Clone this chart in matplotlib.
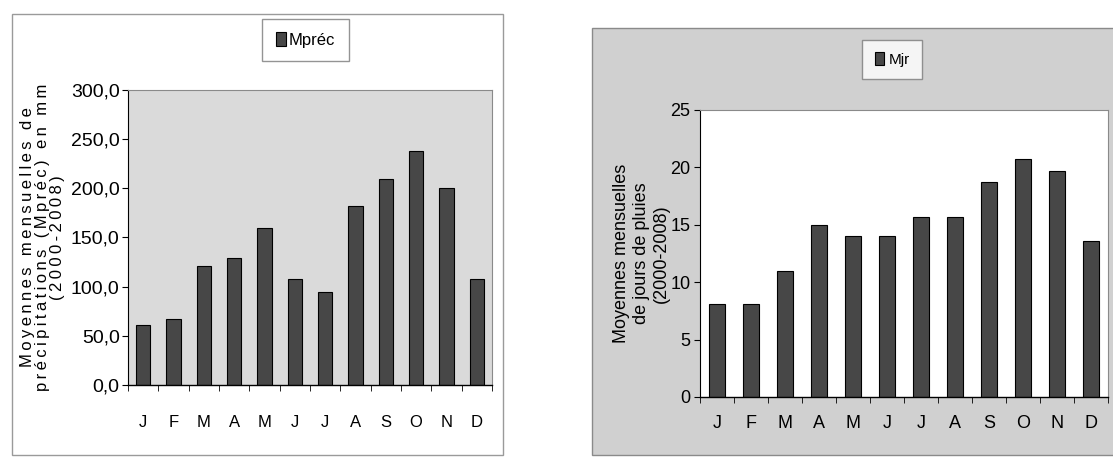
import numpy as np
import matplotlib.pyplot as plt
from matplotlib.patches import Rectangle
from matplotlib import font_manager

# Mois (initiales)
mois = ['J', 'F', 'M', 'A', 'M', 'J', 'J', 'A', 'S', 'O', 'N', 'D']

# Moyennes mensuelles de précipitations (mm), 2000-2008
mprec = [61, 67, 121, 129, 160, 108, 94, 182, 209, 238, 200, 108]

# Moyennes mensuelles de jours de pluie, 2000-2008
mjr = [8.1, 8.1, 11.0, 15.0, 14.0, 14.0, 15.7, 15.7, 18.7, 20.7, 19.7, 13.6]

prec_ticks = [0, 50, 100, 150, 200, 250, 300]
jr_ticks = [0, 5, 10, 15, 20, 25]

# police étroite si disponible
noms = {f.name for f in font_manager.fontManager.ttflist}
narrow = 'Liberation Sans Narrow' if 'Liberation Sans Narrow' in noms else 'Liberation Sans'
plt.rcParams['font.family'] = ['Liberation Sans', 'DejaVu Sans']

BAR = '#474747'
THIN = '\u2009'


def espacer(texte):
    """Texte avec un espacement entre les lettres."""
    return THIN.join(texte)


fig = plt.figure(figsize=(11.13, 4.61), dpi=100)
fig.patch.set_facecolor('white')

# cadres des deux graphiques (derrière les axes)
fig.add_artist(Rectangle((0.0108, 0.013), 0.441, 0.957, transform=fig.transFigure,
                         facecolor='white', edgecolor='#9a9a9a', linewidth=1.0,
                         zorder=-10))
fig.add_artist(Rectangle((0.532, 0.013), 0.48, 0.926, transform=fig.transFigure,
                         facecolor='#d0d0d0', edgecolor='#8a8a8a', linewidth=1.0,
                         zorder=-10))

x = np.arange(len(mois))

# ----- graphique 1 : précipitations -----
ax1 = fig.add_axes([0.115, 0.165, 0.327, 0.640])
ax1.set_facecolor('#dadada')
b1 = ax1.bar(x, mprec, width=0.48, color=BAR, edgecolor='black', linewidth=0.8,
             label='Mpréc')
ax1.set_xlim(-0.5, len(mois) - 0.5)
ax1.set_ylim(0, 300)
ax1.set_yticks(prec_ticks)
ax1.set_yticklabels([f'{v:.1f}'.replace('.', ',') for v in prec_ticks],
                    fontsize=14, family=narrow)
ax1.set_xticks(x)
ax1.set_xticklabels(mois, fontsize=12, family=narrow)
ax1.set_xticks(np.arange(-0.5, len(mois)), minor=True)
ax1.tick_params(axis='x', which='major', length=0, pad=22)
ax1.tick_params(axis='x', which='minor', length=4, direction='out')
ax1.tick_params(axis='y', length=4, direction='out', pad=2)
for s in ['top', 'right']:
    ax1.spines[s].set_color('#8a8a8a')
    ax1.spines[s].set_linewidth(0.8)
ax1.spines['left'].set_linewidth(0.8)
ax1.spines['bottom'].set_linewidth(1.0)
ax1.set_ylabel(espacer('Moyennes mensuelles de') + '\n'
               + espacer('précipitations (Mpréc) en mm') + '\n'
               + espacer('(2000-2008)'),
               fontsize=12, linespacing=1.0, labelpad=4)
ax1.legend(handles=[b1], loc='center', bbox_to_anchor=(0.2745, 0.913),
           bbox_transform=fig.transFigure, frameon=True,
           fancybox=False, edgecolor='#7a7a7a', handlelength=0.6,
           handleheight=0.9, handletextpad=0.2, borderpad=0.8,
           prop={'family': narrow, 'size': 12})

# ----- graphique 2 : jours de pluie -----
ax2 = fig.add_axes([0.629, 0.139, 0.3666, 0.6226])
ax2.set_facecolor('white')
b2 = ax2.bar(x, mjr, width=0.47, color=BAR, edgecolor='black', linewidth=0.8,
             label='Mjr')
ax2.set_xlim(-0.5, len(mois) - 0.5)
ax2.set_ylim(0, 25)
ax2.set_yticks(jr_ticks)
ax2.set_yticklabels([str(v) for v in jr_ticks], fontsize=13)
ax2.set_xticks(x)
ax2.set_xticklabels(mois, fontsize=13)
ax2.set_xticks(np.arange(-0.5, len(mois)), minor=True)
ax2.tick_params(axis='x', which='major', length=0, pad=13)
ax2.tick_params(axis='x', which='minor', length=4, direction='out')
ax2.tick_params(axis='y', length=4, direction='out', pad=3)
for s in ['top', 'right']:
    ax2.spines[s].set_color('#8a8a8a')
    ax2.spines[s].set_linewidth(0.8)
ax2.spines['left'].set_linewidth(0.8)
ax2.spines['bottom'].set_linewidth(1.0)
ax2.set_ylabel('Moyennes mensuelles\nde jours de pluies\n(2000-2008)',
               fontsize=13, linespacing=1.25, labelpad=0)
ax2.legend(handles=[b2], loc='center', bbox_to_anchor=(0.8015, 0.871),
           bbox_transform=fig.transFigure, frameon=True, fancybox=False,
           edgecolor='#7a7a7a', handlelength=0.6, handleheight=0.9,
           handletextpad=0.3, borderpad=0.8,
           prop={'family': narrow, 'size': 11})
ax2.get_legend().get_frame().set_facecolor('white')

fig.savefig('out.png', dpi=100)
